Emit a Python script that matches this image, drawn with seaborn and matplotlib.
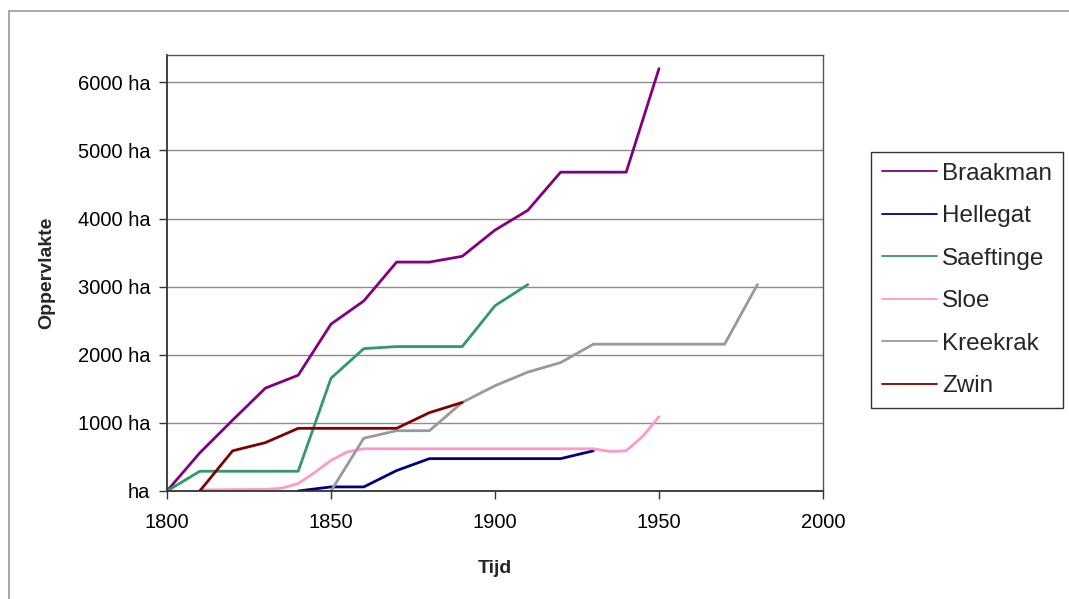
import matplotlib
matplotlib.use("Agg")
import matplotlib.pyplot as plt
from matplotlib.lines import Line2D
from matplotlib.ticker import FuncFormatter, MultipleLocator
import seaborn as sns
import pandas as pd

# ---- data ----
series_names = ["Braakman", "Hellegat", "Saeftinge", "Sloe", "Kreekrak", "Zwin"]

braakman_years = [1800, 1810, 1820, 1830, 1840, 1850, 1860, 1870, 1880, 1890, 1900, 1910, 1920, 1930, 1940, 1950]
braakman_area = [0, 560, 1040, 1510, 1700, 2450, 2790, 3360, 3360, 3445, 3830, 4120, 4680, 4680, 4680, 6200]

hellegat_years = [1840, 1850, 1860, 1870, 1880, 1890, 1900, 1910, 1920, 1930]
hellegat_area = [0, 60, 60, 300, 475, 475, 475, 475, 475, 590]

saeftinge_years = [1800, 1810, 1820, 1830, 1840, 1850, 1860, 1870, 1880, 1890, 1900, 1910]
saeftinge_area = [0, 290, 290, 290, 290, 1655, 2090, 2120, 2120, 2120, 2720, 3030]

sloe_years = [1810, 1820, 1830, 1835, 1840, 1845, 1850, 1855, 1860, 1870, 1880, 1890, 1900, 1910, 1920, 1930, 1935, 1940, 1945, 1950]
sloe_area = [15, 20, 25, 40, 110, 270, 450, 575, 620, 620, 620, 620, 620, 620, 620, 620, 580, 590, 800, 1090]

kreekrak_years = [1850, 1860, 1870, 1880, 1890, 1900, 1910, 1920, 1930, 1940, 1950, 1960, 1970, 1980]
kreekrak_area = [0, 775, 885, 885, 1300, 1545, 1745, 1885, 2155, 2155, 2155, 2155, 2155, 3030]

zwin_years = [1810, 1820, 1830, 1840, 1850, 1860, 1870, 1880, 1890]
zwin_area = [0, 590, 710, 920, 920, 920, 920, 1150, 1300]

y_ticks = [0, 1000, 2000, 3000, 4000, 5000, 6000]
x_ticks = [1800, 1850, 1900, 1950, 2000]

colors = {
    "Braakman": "#800080",
    "Hellegat": "#000080",
    "Saeftinge": "#339966",
    "Sloe": "#FF99CC",
    "Kreekrak": "#999999",
    "Zwin": "#800000",
}

years_list = [braakman_years, hellegat_years, saeftinge_years, sloe_years, kreekrak_years, zwin_years]
area_list = [braakman_area, hellegat_area, saeftinge_area, sloe_area, kreekrak_area, zwin_area]

rows = []
for name, ys, vs in zip(series_names, years_list, area_list):
    for x, v in zip(ys, vs):
        rows.append({"Tijd": x, "Oppervlakte": v, "Gebied": name})
df = pd.DataFrame(rows)

# ---- style ----
sns.set_style("white")
plt.rcParams["font.family"] = ["Liberation Sans", "DejaVu Sans"]

fig = plt.figure(figsize=(10.69, 5.99), dpi=100)
ax = fig.add_axes([167 / 1069, 1 - 491 / 599, (823 - 167) / 1069, (491 - 55) / 599])

sns.lineplot(data=df, x="Tijd", y="Oppervlakte", hue="Gebied", hue_order=series_names,
             palette=colors, estimator=None, sort=True, linewidth=2.0, ax=ax)

ax.set_xlim(1800, 2000)
ax.set_ylim(0, 6400)
ax.set_xticks(x_ticks)
ax.xaxis.set_minor_locator(MultipleLocator(10))
ax.set_yticks(y_ticks)
ax.yaxis.set_major_formatter(FuncFormatter(lambda v, p: "ha" if v == 0 else f"{int(v)} ha"))

ax.yaxis.grid(True, color="#8c8c8c", linewidth=1.0)
ax.xaxis.grid(False)
ax.set_axisbelow(True)

for side in ["left", "bottom"]:
    ax.spines[side].set_color("#333333")
    ax.spines[side].set_linewidth(1.3)
for side in ["top", "right"]:
    ax.spines[side].set_color("#555555")
    ax.spines[side].set_linewidth(1.0)

ax.tick_params(axis="both", which="major", direction="out", length=6, width=1.0,
               color="#333333", labelsize=14.5, labelcolor="black")
ax.tick_params(axis="y", which="major", pad=6)
ax.tick_params(axis="x", which="major", pad=10)
ax.tick_params(axis="x", which="minor", direction="out", length=3, width=1.0, color="#333333")
ax.tick_params(left=True, bottom=True)

ax.set_xlabel("Tijd", fontsize=14, fontweight="bold", labelpad=20)
ax.set_ylabel("Oppervlakte", fontsize=14, fontweight="bold", labelpad=16)

leg = ax.legend(loc="upper left", bbox_to_anchor=(871 / 1069, 1 - 152 / 599),
                bbox_transform=fig.transFigure, fontsize=17.5, frameon=True, fancybox=False,
                edgecolor="#333333", framealpha=1, handlelength=2.25, handletextpad=0.22,
                labelspacing=0.84, borderpad=0.45, borderaxespad=0)
leg.get_frame().set_linewidth(1.0)
leg._legend_box.sep = 0
for line in leg.get_lines():
    line.set_linewidth(1.3)

# outer chart border (left and top edges visible)
fig.add_artist(Line2D([9 / 1069, 9 / 1069], [0, 1 - 11 / 599], transform=fig.transFigure,
                      color="#999999", linewidth=1.2))
fig.add_artist(Line2D([9 / 1069, 1], [1 - 11 / 599, 1 - 11 / 599], transform=fig.transFigure,
                      color="#999999", linewidth=1.2))

fig.savefig("out.png", dpi=100)
